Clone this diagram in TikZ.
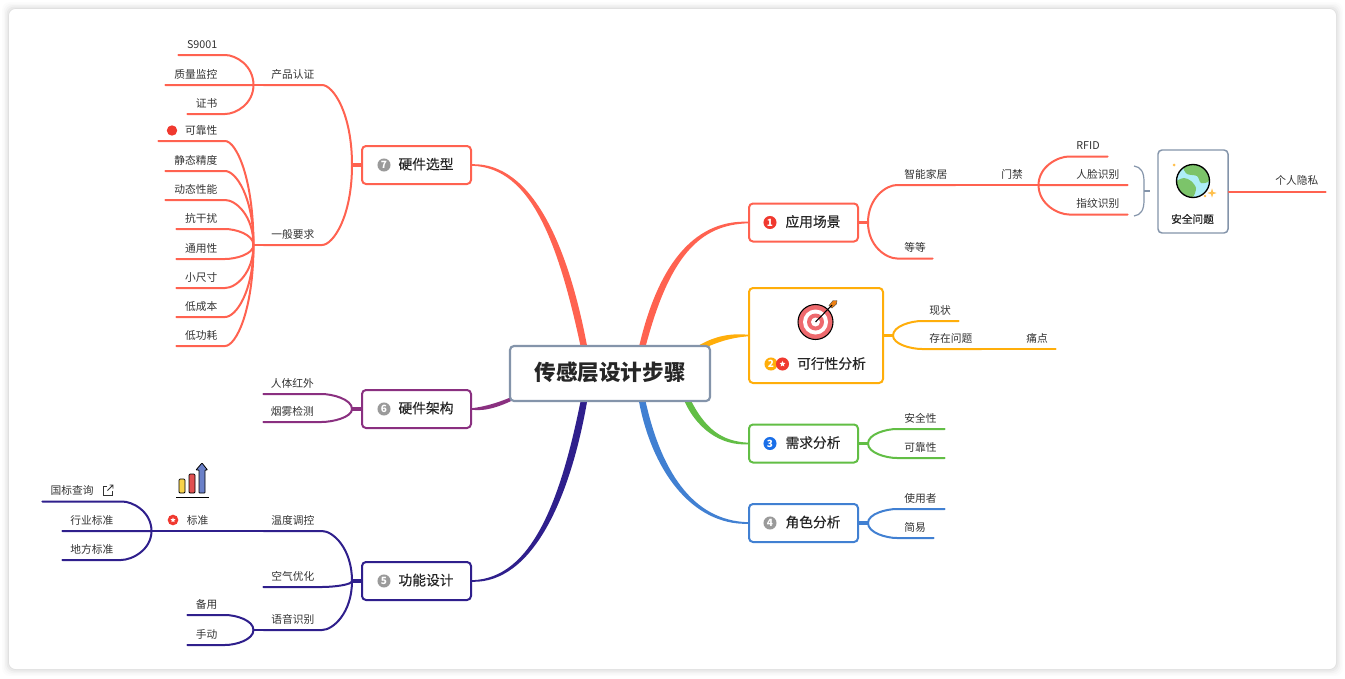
\documentclass[tikz,border=0pt]{standalone}
\usepackage{fontspec}
\setmainfont{Noto Sans CJK SC}
\newfontfamily\medf[FakeBold=0.35]{Noto Sans CJK SC}
\usetikzlibrary{calc,shapes.geometric}
\pgfdeclarelayer{bg}
\pgfsetlayers{bg,main}
\definecolor{coral}{HTML}{FF6250}
\definecolor{amber}{HTML}{FFAE0A}
\definecolor{leafg}{HTML}{62BE45}
\definecolor{skyb}{HTML}{4180D2}
\definecolor{navy}{HTML}{2F1F8C}
\definecolor{plum}{HTML}{8A3080}
\definecolor{slate}{HTML}{8494AA}
\definecolor{ink}{HTML}{333333}
\definecolor{mgray}{HTML}{9A9A9A}
\definecolor{mred}{HTML}{F0392F}
\definecolor{mblue}{HTML}{1A6FE8}
\definecolor{tred}{HTML}{EE6A6E}
\definecolor{barY}{HTML}{F8D24A}
\definecolor{barR}{HTML}{E05050}
\definecolor{barB}{HTML}{6A80C8}
\definecolor{land}{HTML}{7CC46A}
\definecolor{ocean}{HTML}{AEEEF8}
\definecolor{spark}{HTML}{FFC04D}
\tikzset{
  rootbox/.style={draw=slate,line width=1.6pt,fill=white,rounded corners=3pt,minimum width=150pt,minimum height=41.25pt,inner sep=0pt,text=black!85,text height=14.9pt,text depth=4pt,font=\fontsize{16.2pt}{20pt}\selectfont\bfseries},
  mainbox/.style={draw=#1,line width=1.5pt,fill=white,rounded corners=3pt,minimum width=81.75pt,minimum height=28.5pt,inner sep=0pt,text=black!85,text height=9.4pt,text depth=3pt,font=\fontsize{10.3pt}{13pt}\selectfont\medf,execute at begin node={\hspace*{14.25pt}}},
  mtext/.style={inner sep=0pt,text=black!85,font=\fontsize{10.3pt}{13pt}\selectfont\medf},
  stext/.style={inner sep=0pt,text=black!85,font=\fontsize{8pt}{10pt}\selectfont\medf},
  leafcom/.style={inner sep=0pt,minimum height=15pt,text height=7pt,text depth=1.5pt,text=ink,font=\fontsize{8.06pt}{10pt}\selectfont},
  leafl/.style={leafcom,anchor=south east,align=right,/utils/exec={\pgfmathsetlengthmacro\lfw{#1*0.75}},text width=\lfw,execute at end node={\hspace*{5.6pt}}},
  leafr/.style={leafcom,anchor=south west,align=left,/utils/exec={\pgfmathsetlengthmacro\lfw{#1*0.75}},text width=\lfw,execute at begin node={\hspace*{5.3pt}}},
  br/.style={line width=1.5pt,line cap=round},
  stub/.style={line width=2.4pt},
  substub/.style={line width=1.9pt},
  mk/.style={circle,inner sep=0pt,minimum size=9.8pt,text=white,font=\fontsize{7.5pt}{8pt}\selectfont\bfseries},
  wstar/.style={star,star points=5,star point ratio=2.2,fill=white,inner sep=0pt,minimum size=4.6pt},
}
% branch from junction #1 to child node #2, on the left / on the right
\newcommand\brl[2]{\draw[br] (#1) .. controls ($(#1)!0.65!(#1|-#2.south east)$) and ($(#2.south east)+(11,0)$) .. (#2.south east) -- (#2.south west);}
\newcommand\brr[2]{\draw[br] (#1) .. controls ($(#1)!0.65!(#1|-#2.south west)$) and ($(#2.south west)+(-11,0)$) .. (#2.south west) -- (#2.south east);}
% tapered trunk: colour, start, half width vector, c1, c2, end, end half vector
\newcommand\taper[7]{\fill[#1] ($(#2)-(#3)$) .. controls ($(#4)-1.5*(#3)$) and ($(#5)-3*(#7)$) .. ($(#6)-(#7)$) -- ($(#6)+(#7)$) .. controls ($(#5)+3*(#7)$) and ($(#4)+1.5*(#3)$) .. ($(#2)+(#3)$) -- cycle;}
\begin{document}
\begin{tikzpicture}[x=0.75pt,y=-0.75pt]
\useasboundingbox (0,0) rectangle (1345,678);
\begin{pgfonlayer}{bg}
\fill[white] (0,0) rectangle (1345,678);
\foreach \s/\o in {7/0.012,5.5/0.016,4/0.022,2.5/0.03,1/0.04}{
  \fill[black,opacity=\o,rounded corners=6pt] (9-\s,9-\s) rectangle (1336+\s,669+\s);
}
\fill[white,rounded corners=5pt] (9,9) rectangle (1336,669);
\end{pgfonlayer}

% main nodes
\node[mainbox=coral] (hw) at (416.5,165) {硬件选型};
\node[mainbox=plum]  (arch) at (416.5,409) {硬件架构};
\node[mainbox=navy]  (func) at (416.5,581) {功能设计};
\node[mainbox=coral] (app) at (803.5,222.5) {应用场景};
\node[mainbox=leafg] (req) at (803.5,443.5) {需求分析};
\node[mainbox=skyb]  (role) at (803.5,523) {角色分析};
\node[draw=amber,line width=1.5pt,fill=white,rounded corners=3pt,minimum width=100.5pt,minimum height=71.25pt,inner sep=0pt] (feas) at (816,335.5) {};
\node[draw=slate,line width=1.1pt,fill=white,rounded corners=3pt,minimum width=52.5pt,minimum height=62.25pt,inner sep=0pt] (safe) at (1193,191.5) {};
\node[rootbox] (root) at (610,373.5) {传感层设计步骤};
\node[mtext] (feast) at (831.5,363.5) {可行性分析};
\node[stext] (safet) at (1192.5,219) {安全问题};

% trunks
\begin{pgfonlayer}{bg}
\taper{coral}{585,352}{3.2,0}{564,245}{532,165}{hw.east}{0,-0.8}
\taper{coral}{641,352}{3.2,0}{664,255}{700,222.5}{app.west}{0,0.8}
\taper{amber}{692,352}{0,-2.4}{712,340}{728,335.5}{feas.west}{0,-0.8}
\taper{leafg}{685,395}{3.2,0}{700,430}{722,443.5}{req.west}{0,-0.8}
\taper{skyb}{641,395}{3.2,0}{655,470}{692,523}{role.west}{0,-0.8}
\taper{navy}{585,395}{3.2,0}{566,500}{532,581}{func.east}{0,0.8}
\taper{plum}{522,394}{0,-1.6}{500,405}{485,409}{arch.east}{0,-0.8}
\end{pgfonlayer}

% markers
\node[mk,fill=mgray] (m7) at (384,165) {7};
\node[mk,fill=mgray] (m6) at (384,409) {6};
\node[mk,fill=mgray] (m5) at (384,581) {5};
\node[mk,fill=mred] (m1) at (770,222.5) {1};
\node[mk,fill=amber] (m2) at (771,364) {2};
\node[mk,fill=mred] (m2s) at (782.5,364) {};
\node[wstar] at (m2s) {};
\node[mk,fill=mblue] (m3) at (770,443.5) {3};
\node[mk,fill=mgray] (m4) at (770,523) {4};

% ---- coral left: 硬件选型
\begin{scope}[draw=coral]
\coordinate (jhw) at (352,165);
\draw[stub] (hw.west) -- (jhw);
\node[leafl=58] (cert) at (322,85) {产品认证};
\node[leafl=58] (gen) at (322,245) {一般要求};
\brl{jhw}{cert}
\brl{jhw}{gen}
\coordinate (jcert) at ($(cert.south west)+(-10,0)$);
\coordinate (jgen) at ($(gen.south west)+(-10,0)$);
\draw[substub] (cert.south west) -- (jcert);
\draw[substub] (gen.south west) -- (jgen);
\node[leafl=46] (c1) at (225,55) {S9001};
\node[leafl=59] (c2) at (225,85) {质量监控};
\node[leafl=37] (c3) at (225,114) {证书};
\foreach \n in {c1,c2,c3}{\brl{jcert}{\n}}
\node[leafl=66] (g1) at (225,141) {可靠性};
\node[leafl=59] (g2) at (225,171) {静态精度};
\node[leafl=59] (g3) at (225,200) {动态性能};
\node[leafl=48] (g4) at (225,229) {抗干扰};
\node[leafl=48] (g5) at (225,259) {通用性};
\node[leafl=48] (g6) at (225,288) {小尺寸};
\node[leafl=48] (g7) at (225,317) {低成本};
\node[leafl=48] (g8) at (225,346) {低功耗};
\foreach \n in {g1,g2,g3,g4,g5,g6,g7,g8}{\brl{jgen}{\n}}
\end{scope}
\node[circle,fill=mred,inner sep=0pt,minimum size=7.8pt] (dot) at (172,130.5) {};

% ---- plum: 硬件架构
\begin{scope}[draw=plum]
\coordinate (jarch) at (352,409);
\draw[stub] (arch.west) -- (jarch);
\node[leafl=57.5] (a1) at (321.5,394) {人体红外};
\node[leafl=57.5] (a2) at (321.5,422) {烟雾检测};
\brl{jarch}{a1}
\brl{jarch}{a2}
\end{scope}

% ---- navy: 功能设计
\begin{scope}[draw=navy]
\coordinate (jfunc) at (352,581);
\draw[stub] (func.west) -- (jfunc);
\node[leafl=58] (f1) at (322,531) {温度调控};
\node[leafl=58] (f2) at (322,587) {空气优化};
\node[leafl=58] (f3) at (322,630) {语音识别};
\brl{jfunc}{f1}
\brl{jfunc}{f2}
\brl{jfunc}{f3}
\node[leafl=63] (std) at (225,531) {标准\hspace*{6.6pt}};
\draw[br] (f1.south west) -- (std.south west);
\coordinate (jstd) at ($(std.south west)+(-10,0)$);
\draw[substub] (std.south west) -- (jstd);
\node[leafl=79] (s1) at (122,501.5) {国标查询\hspace*{15.5pt}};
\node[leafl=58] (s2) at (121,531) {行业标准};
\node[leafl=58] (s3) at (121,560) {地方标准};
\foreach \n in {s1,s2,s3}{\brl{jstd}{\n}}
\coordinate (jvoice) at ($(f3.south west)+(-10,0)$);
\draw[substub] (f3.south west) -- (jvoice);
\node[leafl=37] (v1) at (225,615) {备用};
\node[leafl=37] (v2) at (225,645) {手动};
\brl{jvoice}{v1}
\brl{jvoice}{v2}
\end{scope}
\node[circle,fill=mred,inner sep=0pt,minimum size=8pt] (stdm) at (173,520) {};
\node[wstar,minimum size=4pt] at (stdm) {};
% external link icon
\draw[ink,line width=0.6pt] (107,486) -- (103.5,486) -- (103.5,495) -- (112,495) -- (112,491);
\draw[ink,line width=0.6pt] (107.5,490.5) -- (113,485) (109.5,485) -- (113,485) -- (113,488.5);
% chart icon
\draw[black,line width=0.6pt,fill=barY,rounded corners=0.8pt] (179,479) rectangle (185,493);
\draw[black,line width=0.6pt,fill=barR,rounded corners=0.8pt] (189,474) rectangle (195,493);
\draw[black,line width=0.6pt,fill=barB,rounded corners=0.5pt] (199,493) -- (199,470) -- (196,470) -- (202,463) -- (207.5,470) -- (205,470) -- (205,493) -- cycle;
\draw[black,line width=0.7pt] (176,497) -- (209,497);

% ---- coral right: 应用场景
\begin{scope}[draw=coral]
\coordinate (japp) at (868,222.5);
\draw[stub] (app.east) -- (japp);
\node[leafr=58] (p1) at (897,185) {智能家居};
\node[leafr=35] (p2) at (897,258.5) {等等};
\brr{japp}{p1}
\brr{japp}{p2}
\node[leafr=34] (door) at (994,185) {门禁};
\draw[br] (p1.south east) -- (door.south east);
\coordinate (jdoor) at ($(door.south east)+(10,0)$);
\draw[substub] (door.south east) -- (jdoor);
\node[leafr=38] (d1) at (1069,156.5) {RFID};
\node[leafr=58] (d2) at (1069,185) {人脸识别};
\node[leafr=58] (d3) at (1069,214.5) {指纹识别};
\foreach \n in {d1,d2,d3}{\brr{jdoor}{\n}}
\node[leafr=57] (priv) at (1268,191.5) {个人隐私};
\draw[br] (safe.east) -- (priv.south east);
\end{scope}
% brace
\draw[slate,line width=0.9pt] (1134,166) .. controls (1141,167) and (1144,172) .. (1144,182) -- (1144,200) .. controls (1144,210) and (1141,215) .. (1134,216);
\draw[slate,line width=0.9pt] (1144,191) -- (1150,191);

% ---- amber
\begin{scope}[draw=amber]
\coordinate (jfeas) at (893,335.5);
\draw[stub] (feas.east) -- (jfeas);
\node[leafr=36] (e1) at (922,321) {现状};
\node[leafr=59] (e2) at (922,349) {存在问题};
\brr{jfeas}{e1}
\brr{jfeas}{e2}
\node[leafr=36] (e3) at (1019,349) {痛点};
\draw[br] (e2.south east) -- (e3.south east);
\end{scope}

% ---- green
\begin{scope}[draw=leafg]
\coordinate (jreq) at (868,443.5);
\draw[stub] (req.east) -- (jreq);
\node[leafr=47] (r1) at (897,429) {安全性};
\node[leafr=47] (r2) at (897,458) {可靠性};
\brr{jreq}{r1}
\brr{jreq}{r2}
\end{scope}

% ---- blue
\begin{scope}[draw=skyb]
\coordinate (jrole) at (868,523);
\draw[stub] (role.east) -- (jrole);
\node[leafr=47] (o1) at (897,509) {使用者};
\node[leafr=36] (o2) at (897,538) {简易};
\brr{jrole}{o1}
\brr{jrole}{o2}
\end{scope}

% target icon
\draw[black,line width=0.8pt,fill=tred] (815.5,322) circle (17.5);
\fill[white] (815.5,322) circle (12.5);
\fill[tred] (815.5,322) circle (8.5);
\fill[white] (815.5,322) circle (4.5);
\fill[orange!70!brown,draw=black!70,line width=0.3pt] (829,305.5) -- (833,300.5) -- (837,300.5) -- (836.5,304) -- (832,308) -- cycle;
\draw[black,line width=0.8pt] (815.5,322) -- (832,305);

% globe icon
\begin{scope}
\clip (1193,181) circle (16.5);
\fill[ocean] (1193,181) circle (16.5);
\fill[land] plot[smooth cycle] coordinates {(1184,167) (1198,163) (1209,170) (1209,181) (1201,183) (1197,176) (1187,174)};
\fill[land] plot[smooth cycle] coordinates {(1176,182) (1184,178) (1191,181) (1196,188) (1193,197) (1186,198) (1180,191)};
\end{scope}
\draw[black,line width=1pt] (1193,181) circle (16.5);
\fill[spark] (1174,165) circle (1.5) (1205,196) circle (1.4);
\node[star,star points=4,star point ratio=3,fill=spark,inner sep=0pt,minimum size=7pt] (spk) at (1212,193) {};
\end{tikzpicture}
\end{document}
